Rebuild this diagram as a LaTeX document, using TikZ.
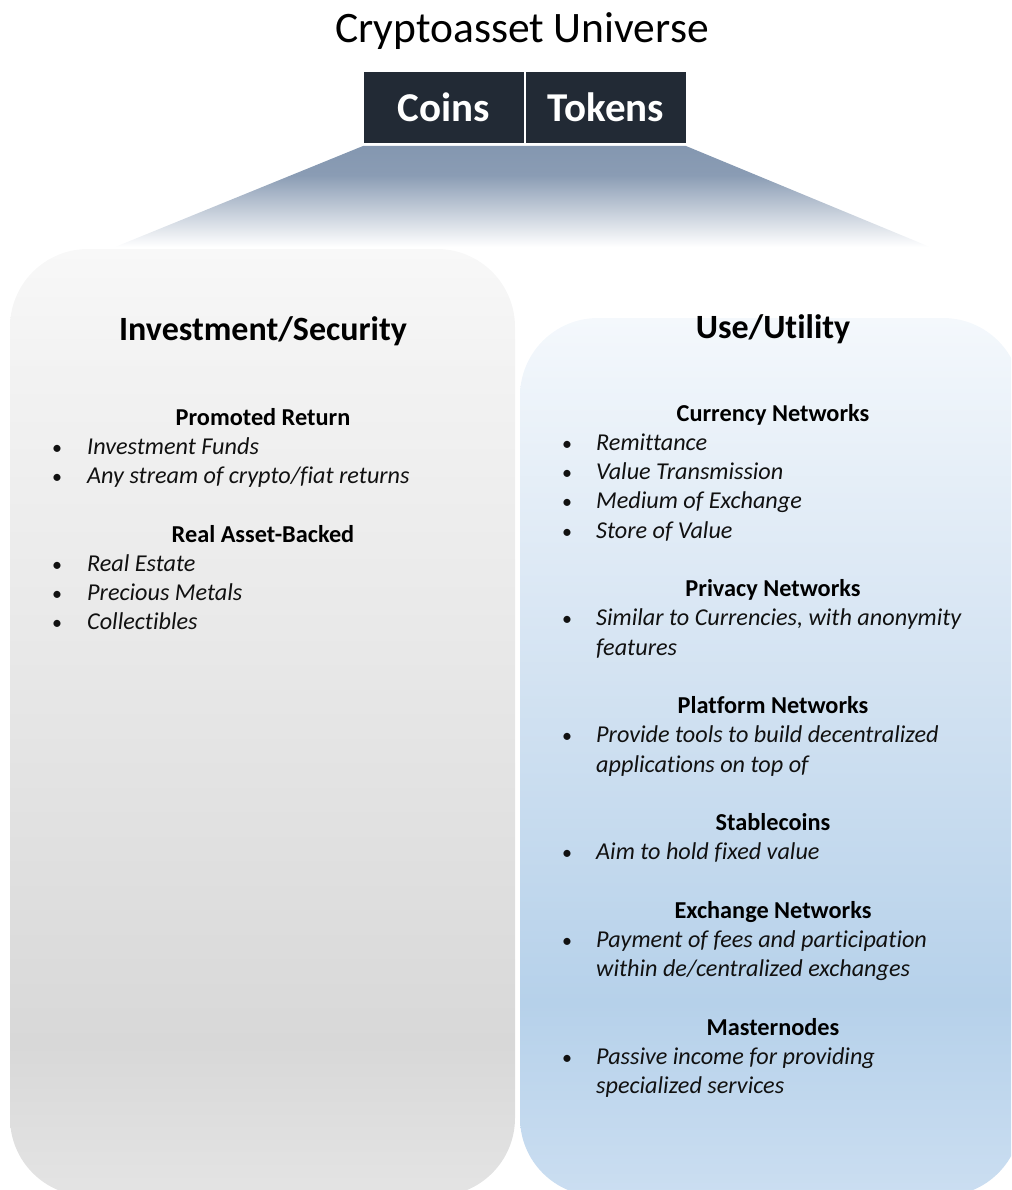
\documentclass[tikz,border=0pt]{standalone}
\usepackage{fontspec}
\setmainfont{Carlito}[Ligatures=NoCommon]

% palette
\definecolor{cellfill}{HTML}{222A35}
\definecolor{fanTop}{HTML}{8497B0}
\definecolor{fanMid}{HTML}{8A9CB4}
\definecolor{invTop}{HTML}{F8F8F8}
\definecolor{invA}{HTML}{F4F4F4}
\definecolor{invB}{HTML}{E9E9E9}
\definecolor{invC}{HTML}{D8D8D8}
\definecolor{invD}{HTML}{E4E4E4}
\definecolor{useTop}{HTML}{F4F8FC}
\definecolor{useB}{HTML}{D7E5F3}
\definecolor{useC}{HTML}{B6D1EA}
\definecolor{useD}{HTML}{CBDEF1}
\definecolor{inktext}{HTML}{111111}

% vertical fills (the path's box spans 25bp..75bp)
\pgfdeclareverticalshading{fanshade}{100bp}{color(0bp)=(white); color(25bp)=(white);
  color(60.6bp)=(fanMid); color(75bp)=(fanTop); color(100bp)=(fanTop)}
\pgfdeclareverticalshading{investshade}{100bp}{color(0bp)=(invD); color(25bp)=(invD);
  color(33bp)=(invC); color(55bp)=(invB); color(71bp)=(invA); color(75bp)=(invTop); color(100bp)=(invTop)}
\pgfdeclareverticalshading{useshade}{100bp}{color(0bp)=(useD); color(25bp)=(useD);
  color(36bp)=(useC); color(57bp)=(useB); color(75bp)=(useTop); color(100bp)=(useTop)}

\begin{document}
\begin{tikzpicture}[x=1pt,y=-1pt,
  title/.style={font=\fontsize{43.5}{50}\selectfont, text=black, anchor=base, inner sep=0pt},
  cell/.style={fill=cellfill, draw=white, line width=1.5pt, minimum width=162pt,
    minimum height=72pt, inner sep=0pt, text=white,
    font=\fontsize{41}{48}\selectfont\bfseries},
  boxhead/.style={font=\fontsize{34}{40}\selectfont\bfseries, text=black, anchor=base, inner sep=0pt},
  subhead/.style={font=\fontsize{24.3}{29}\selectfont\bfseries, text=black, anchor=base, inner sep=0pt},
  item/.style={font=\fontsize{24.2}{29}\selectfont\itshape, text=inktext, anchor=base west, inner sep=0pt},
  bullet/.style={font=\fontsize{20}{24}\selectfont, text=inktext, anchor=base, inner sep=0pt},
  panel/.style={rounded corners=78pt}
]
\useasboundingbox (0,0) rectangle (1011,1190);
\clip (0,0) rectangle (1011,1190);

% heading
\node[title] (universe) at (522,43) {Cryptoasset Universe};

% spreading fan below the two cells
\path[shading=fanshade] (363,146) -- (686,146) -- (930,247) -- (115,247) -- cycle;

% the two category cells
\node[cell] (coins) at (444,107.5) {Coins};
\node[cell] (tokens) at (606,107.5) {Tokens};

% panels
\path[shading=investshade, panel] (10,1196) -- (10,249) -- (515,249) -- (515,1196) -- cycle;
\path[shading=useshade, panel] (520,1196) -- (520,318) -- (1021,318) -- (1021,1196) -- cycle;

% left panel text
\node[boxhead] (invest) at (263,340) {Investment/Security};

\node[subhead] (promoted) at (263,425) {Promoted Return};
\node[bullet] (bA) at (57,454.25) {•};
\node[item] (funds) at (87,454.25) {Investment Funds};
\node[bullet] (bB) at (57,483.5) {•};
\node[item] (stream) at (87,483.5) {Any stream of crypto/fiat returns};

\node[subhead] (realasset) at (263,542) {Real Asset-Backed};
\node[bullet] (bC) at (57,571.25) {•};
\node[item] (estate) at (87,571.25) {Real Estate};
\node[bullet] (bD) at (57,600.5) {•};
\node[item] (metals) at (87,600.5) {Precious Metals};
\node[bullet] (bE) at (57,629.75) {•};
\node[item] (collect) at (87,629.75) {Collectibles};

% right panel text
\node[boxhead] (use) at (773,338) {Use/Utility};

\node[subhead] (currency) at (773,421) {Currency Networks};
\node[bullet] (c1) at (567,450.25) {•};
\node[item] (remit) at (596,450.25) {Remittance};
\node[bullet] (c2) at (567,479.5) {•};
\node[item] (valtx) at (596,479.5) {Value Transmission};
\node[bullet] (c3) at (567,508.75) {•};
\node[item] (medium) at (596,508.75) {Medium of Exchange};
\node[bullet] (c4) at (567,538) {•};
\node[item] (store) at (596,538) {Store of Value};

\node[subhead] (privacy) at (773,596.5) {Privacy Networks};
\node[bullet] (p1) at (567,625.75) {•};
\node[item] (similar) at (596,625.75) {Similar to Currencies, with anonymity};
\node[item] (features) at (596,655) {features};

\node[subhead] (platform) at (773,713.5) {Platform Networks};
\node[bullet] (l1) at (567,742.75) {•};
\node[item] (tools) at (596,742.75) {Provide tools to build decentralized};
\node[item] (apps) at (596,772) {applications on top of};

\node[subhead] (stable) at (773,830.5) {Stablecoins};
\node[bullet] (s1) at (567,859.75) {•};
\node[item] (fixed) at (596,859.75) {Aim to hold fixed value};

\node[subhead] (exchange) at (773,918.25) {Exchange Networks};
\node[bullet] (e1) at (567,947.5) {•};
\node[item] (fees) at (596,947.5) {Payment of fees and participation};
\node[item] (within) at (596,976.75) {within de/centralized exchanges};

\node[subhead] (master) at (773,1035.25) {Masternodes};
\node[bullet] (m1) at (567,1064.5) {•};
\node[item] (passive) at (596,1064.5) {Passive income for providing};
\node[item] (special) at (596,1093.75) {specialized services};
\end{tikzpicture}
\end{document}
